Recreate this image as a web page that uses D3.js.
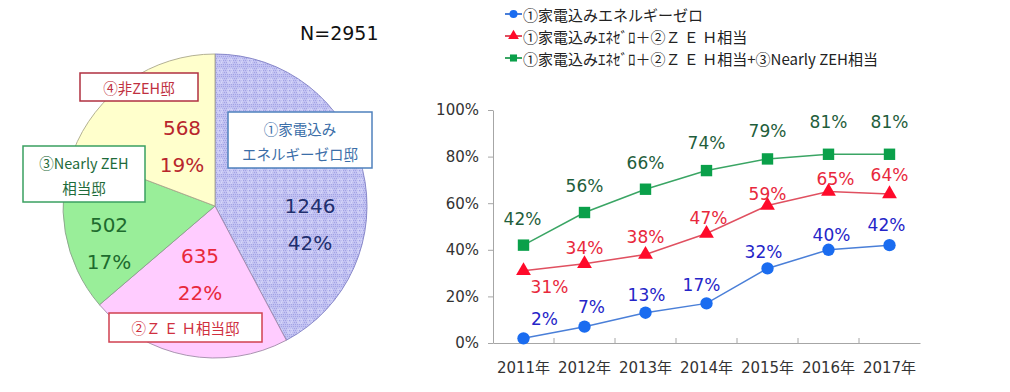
<!DOCTYPE html>
<html>
<head>
<meta charset="utf-8">
<script src="https://cdn.jsdelivr.net/npm/d3@7"></script>
<style>
  body { margin: 0; background: #fff; }
  svg { display: block; font-family: "DejaVu Sans", "Noto Sans CJK JP", sans-serif; }
</style>
</head>
<body>
<div id="viz"></div>
<script>
// Pie data
const pieNames = ['①家電込みエネルギーゼロ邸', '②ＺＥＨ相当邸', '③Nearly ZEH相当邸', '④非ZEH邸'];
const pieCounts = [1246, 635, 502, 568];
const pieTotal = 2951;

// Line data
const years = ['2011年', '2012年', '2013年', '2014年', '2015年', '2016年', '2017年'];
const seriesNames = [
  '①家電込みエネルギーゼロ',
  '①家電込みｴﾈｾﾞﾛ＋②Ｚ Ｅ Ｈ相当',
  '①家電込みｴﾈｾﾞﾛ＋②Ｚ Ｅ Ｈ相当+③Nearly ZEH相当'
];
const zeroEnergy = [2, 7, 13, 17, 32, 40, 42];
const plusZeh = [31, 34, 38, 47, 59, 65, 64];
const plusNearly = [42, 56, 66, 74, 79, 81, 81];
const yTicks = [0, 20, 40, 60, 80, 100];

const width = 1010;
const height = 392;

const svg = d3.select('#viz')
  .append('svg')
    .attr('width', width)
    .attr('height', height);

// pattern for the blue slice: fine checker + small light motif
const defs = svg.append('defs');
const pat = defs.append('pattern')
  .attr('id', 'dots')
  .attr('width', 10)
  .attr('height', 10)
  .attr('patternUnits', 'userSpaceOnUse');
pat.append('rect').attr('width', 10).attr('height', 10).attr('fill', '#c2c2f2');
for (let i = 0; i < 10; i += 2) {
  for (let j = 0; j < 10; j += 2) {
    pat.append('rect').attr('x', i + ((j / 2) % 2)).attr('y', j).attr('width', 1).attr('height', 1).attr('fill', '#a2a2e4');
  }
}
pat.append('rect').attr('x', 3).attr('y', 3).attr('width', 4).attr('height', 4)
  .attr('fill', 'none').attr('stroke', '#dadafa').attr('stroke-width', 1);

// ---------- Pie ----------
const pieColors = ['url(#dots)', '#ffccff', '#99ee99', '#ffffcc'];
const pieStrokes = ['#7f7fc4', '#a08aa8', '#8aa08a', '#aaa88a'];
const cx = 215, cy = 206, radius = 152;

const pie = d3.pie().sort(null).value(d => d);
const arc = d3.arc().innerRadius(0).outerRadius(radius);

const pieGroup = svg.append('g')
  .attr('transform', `translate(${cx},${cy})`);

pieGroup.selectAll('path')
  .data(pie(pieCounts))
  .join('path')
    .attr('d', arc)
    .attr('fill', (d, i) => pieColors[i])
    .attr('stroke', (d, i) => pieStrokes[i])
    .attr('stroke-width', 0.9);

// value labels inside slices
const pieLabelPos = [[310, 206], [200, 256], [109, 225], [182, 128]];
const pieLabelColors = ['#1f2f6e', '#e8283c', '#1e6b2e', '#b8262c'];
pieCounts.forEach((v, i) => {
  const g = svg.append('g').attr('fill', pieLabelColors[i]).style('font-size', '20px').attr('text-anchor', 'middle');
  g.append('text')
    .attr('x', pieLabelPos[i][0]).attr('y', pieLabelPos[i][1])
    .attr('dominant-baseline', 'central')
    .text(v);
  g.append('text')
    .attr('x', pieLabelPos[i][0]).attr('y', pieLabelPos[i][1] + 37)
    .attr('dominant-baseline', 'central')
    .text(Math.round(v / pieTotal * 100) + '%');
});

// name boxes
const boxes = [
  {x: 228, y: 112, w: 144, h: 56, color: '#4f81bd', text: '#3b6ea8', lines: ['①家電込み', 'エネルギーゼロ邸']},
  {x: 109, y: 313, w: 153, h: 29, color: '#d04050', text: '#d03040', lines: ['②Ｚ Ｅ Ｈ相当邸']},
  {x: 23, y: 146, w: 122, h: 56, color: '#3aa060', text: '#1e6b3a', lines: ['③Nearly  ZEH', '相当邸']},
  {x: 80, y: 73, w: 118, h: 28, color: '#b03040', text: '#c03040', lines: ['④非ZEH邸']}
];
boxes.forEach(b => {
  svg.append('rect')
    .attr('x', b.x).attr('y', b.y).attr('width', b.w).attr('height', b.h)
    .attr('fill', '#fff')
    .attr('stroke', b.color)
    .attr('stroke-width', 1.5);
  const step = b.h / b.lines.length;
  b.lines.forEach((t, j) => {
    svg.append('text')
      .attr('x', b.x + b.w / 2)
      .attr('y', b.y + step * (j + 0.5) + (b.lines.length > 1 ? (j === 0 ? 2 : -1) : 0))
      .attr('text-anchor', 'middle')
      .attr('dominant-baseline', 'central')
      .attr('fill', b.text)
      .style('font-family', '"Noto Sans CJK JP", sans-serif')
      .style('font-size', '14.5px')
      .text(t);
  });
});

svg.append('text')
  .attr('x', 300).attr('y', 33)
  .attr('dominant-baseline', 'central')
  .style('font-size', '19px')
  .attr('fill', '#111')
  .text('N=' + pieTotal);

// ---------- Line chart ----------
const xScale = d3.scaleBand()
  .domain(years)
  .range([493, 920]);
const yScale = d3.scaleLinear()
  .domain([0, 100])
  .range([343, 110]);

const axisColor = '#a6a6a6';

const yAxisGroup = svg.append('g')
  .attr('transform', 'translate(493,0)')
  .call(d3.axisLeft(yScale).tickValues(yTicks).tickFormat(d => d + '%').tickSize(5).tickPadding(9).tickSizeOuter(0));
yAxisGroup.select('.domain').attr('stroke', axisColor);
yAxisGroup.selectAll('line').attr('stroke', axisColor);
yAxisGroup.selectAll('text')
  .style('font-size', '15px')
  .style('font-family', '"DejaVu Sans", sans-serif')
  .attr('fill', '#333');

const xAxisGroup = svg.append('g')
  .attr('transform', 'translate(0,343)')
  .call(d3.axisBottom(xScale).tickSize(0).tickPadding(19).tickSizeOuter(0));
xAxisGroup.select('.domain').attr('stroke', axisColor);
xAxisGroup.selectAll('text')
  .style('font-size', '15px')
  .style('font-family', '"DejaVu Sans", "Noto Sans CJK JP", sans-serif')
  .attr('fill', '#333');

// boundary ticks between categories
xAxisGroup.selectAll('.bound')
  .data(years.slice(1))
  .join('line')
    .attr('class', 'bound')
    .attr('x1', d => xScale(d))
    .attr('x2', d => xScale(d))
    .attr('y1', 0)
    .attr('y2', -5)
    .attr('stroke', axisColor);

const seriesList = [
  {values: zeroEnergy, line: '#4a7fd8', mark: '#1a6cf0', label: '#2525c8', shape: d3.symbolCircle, size: 120},
  {values: plusZeh, line: '#e05060', mark: '#ff0a2a', label: '#e8283c', shape: d3.symbolTriangle, size: 95},
  {values: plusNearly, line: '#3aa564', mark: '#0aa04a', label: '#1f5e3c', shape: d3.symbolSquare, size: 130}
];

// label offsets [dx, dy] per series / point
const labelOffsets = [
  [[21, -19], [7, -20], [1, -18], [-5, -18], [-4, -16], [3, -15], [-3, -20]],
  [[26, 16], [0, -16], [0, -17], [2, -15], [0, -12], [7, -13], [0, -19]],
  [[-1, -26], [0, -27], [0, -26], [0, -28], [0, -28], [0, -32], [0, -32]]
];

const lineGen = d3.line()
  .x((d, i) => xScale(years[i]) + xScale.bandwidth() / 2)
  .y(d => yScale(d));

seriesList.forEach((s, si) => {
  svg.append('path')
    .attr('d', lineGen(s.values))
    .attr('fill', 'none')
    .attr('stroke', s.line)
    .attr('stroke-width', 1.5);

  svg.append('g').selectAll('path')
    .data(s.values)
    .join('path')
      .attr('d', d3.symbol().type(s.shape).size(s.size))
      .attr('transform', (d, i) => `translate(${xScale(years[i]) + xScale.bandwidth() / 2},${yScale(d)})`)
      .attr('fill', s.mark);

  svg.append('g').selectAll('text')
    .data(s.values)
    .join('text')
      .attr('x', (d, i) => xScale(years[i]) + xScale.bandwidth() / 2 + labelOffsets[si][i][0])
      .attr('y', (d, i) => yScale(d) + labelOffsets[si][i][1])
      .attr('text-anchor', 'middle')
      .attr('dominant-baseline', 'central')
      .attr('fill', s.label)
      .style('font-size', '17px')
      .text(d => d + '%');
});

// legend
const legendY = [14, 36, 58];
seriesList.forEach((s, i) => {
  const g = svg.append('g').attr('transform', `translate(505,${legendY[i]})`);
  g.append('line')
    .attr('x1', 0).attr('x2', 17)
    .attr('stroke', s.line)
    .attr('stroke-width', 2);
  g.append('path')
    .attr('d', d3.symbol().type(s.shape).size(50))
    .attr('transform', 'translate(8.5,0)')
    .attr('fill', s.mark);
  g.append('text')
    .attr('x', 18)
    .attr('dominant-baseline', 'central')
    .attr('fill', '#222')
    .style('font-family', '"Noto Sans CJK JP", sans-serif')
    .style('font-size', '15px')
    .text(seriesNames[i]);
});
</script>
</body>
</html>
